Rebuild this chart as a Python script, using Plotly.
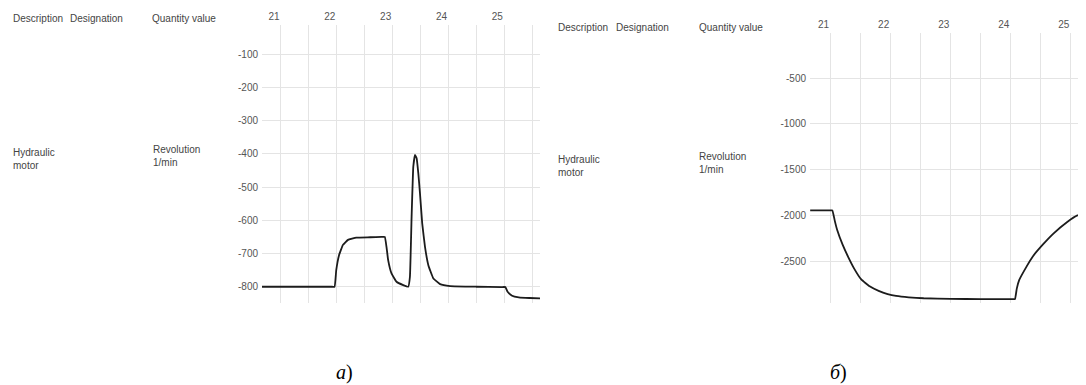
import plotly.graph_objects as go

# page body has an 8px margin, so the figure is offset by 8px
OFF = 8
W, H = 1086 - OFF, 385 - OFF

# ---- data (panel a) ----
time_a = [20.66, 21.50, 21.90, 21.96, 21.99, 22.04, 22.11, 22.20, 22.35, 22.60, 22.80, 22.86,
          22.89, 22.92, 22.98, 23.07, 23.19, 23.28, 23.31, 23.34, 23.37, 23.40, 23.43, 23.46,
          23.49, 23.53, 23.58, 23.64, 23.73, 23.85, 24.03, 24.50, 24.95, 25.02, 25.06, 25.14,
          25.26, 25.45, 25.64]
rev_a = [-800, -800, -800, -800, -750, -705, -674, -659, -652, -651, -650, -650,
         -680, -720, -760, -785, -795, -800, -770, -589, -439, -403, -413, -458,
         -519, -609, -680, -735, -775, -792, -798, -800, -801, -801, -815, -827,
         -832, -834, -835]

# ---- data (panel б) ----
time_b = [20.66, 20.90, 21.00, 21.03, 21.07, 21.11, 21.20, 21.29, 21.40, 21.51, 21.65, 21.80,
          21.95, 22.09, 22.30, 22.55, 23.00, 23.50, 23.90, 24.03, 24.07, 24.10, 24.14, 24.26,
          24.37, 24.54, 24.71, 24.94, 25.11, 25.29, 25.39]
rev_b = [-1946, -1946, -1946, -1946, -2060, -2160, -2320, -2450, -2590, -2700, -2775, -2825,
         -2860, -2880, -2895, -2905, -2912, -2914, -2915, -2915, -2915, -2800, -2707, -2562,
         -2446, -2315, -2199, -2072, -2000, -1971, -1964]

x_ticks = [21, 22, 23, 24, 25]
y_ticks_a = [-100, -200, -300, -400, -500, -600, -700, -800]
y_ticks_b = [-500, -1000, -1500, -2000, -2500]


def px(x):
    return (x - OFF) / W


def py(y):
    return 1 - (y - OFF) / H


fig = go.Figure()
line = dict(color="#1c1c1c", width=1.8, shape="spline", smoothing=0.3)
fig.add_trace(go.Scatter(x=time_a, y=rev_a, mode="lines", line=line, xaxis="x", yaxis="y",
                         showlegend=False, hoverinfo="skip"))
fig.add_trace(go.Scatter(x=time_b, y=rev_b, mode="lines", line=line, xaxis="x2", yaxis="y2",
                         showlegend=False, hoverinfo="skip"))

grid = "#e4e4e4"
tickfont = dict(family="Liberation Sans, Arial", size=10, color="#555")


def xaxis(domain, rng, anchor):
    return dict(domain=domain, range=rng, anchor=anchor, side="top",
                tickvals=x_ticks, ticktext=[str(v) for v in x_ticks],
                showgrid=True, gridcolor=grid, gridwidth=1,
                minor=dict(dtick=0.5, tick0=20.5, showgrid=True, gridcolor=grid, gridwidth=1),
                zeroline=False, showline=False, ticks="", tickfont=tickfont,
                ticklabelshift=-7, ticklabelstandoff=2, fixedrange=True)


def yaxis(domain, rng, anchor, vals):
    return dict(domain=domain, range=rng, anchor=anchor,
                tickvals=vals, ticktext=[str(v) for v in vals],
                showgrid=True, gridcolor=grid, gridwidth=1,
                zeroline=False, showline=False, ticks="", tickfont=tickfont,
                ticklabelstandoff=3, fixedrange=True)


fig.update_layout(
    width=W, height=H,
    margin=dict(l=0, r=0, t=0, b=0),
    paper_bgcolor="white", plot_bgcolor="white",
    xaxis=xaxis([px(262), px(540)], [20.66, 25.64], "y"),
    yaxis=yaxis([py(303), py(25)], [-849, -12], "x", y_ticks_a),
    xaxis2=xaxis([px(810), 1.0], [20.657, 25.39 - 8 / 58.3], "y2"),
    yaxis2=yaxis([py(303), py(33)], [-2957, -8], "x2", y_ticks_b),
)

txt = dict(family="Liberation Sans, Arial", size=10, color="#444")


def label(x, y, s, font=txt):
    fig.add_annotation(x=px(x), y=py(y), xref="paper", yref="paper", text=s,
                       showarrow=False, xanchor="left", yanchor="middle", align="left",
                       font=font)


# panel a texts
label(11, 18, "Description")
label(68, 18, "Designation")
label(150, 18, "Quantity value")
label(11, 159, "Hydraulic<br>motor")
label(151, 156, "Revolution<br>1/min")

# panel б texts
label(556, 28, "Description")
label(614, 28, "Designation")
label(697, 28, "Quantity value")
label(556, 166, "Hydraulic<br>motor")
label(697, 163, "Revolution<br>1/min")

cap = dict(family="Liberation Serif, Times New Roman", size=20, color="#000")
fig.add_annotation(x=px(344), y=py(372), xref="paper", yref="paper", text="<i>a</i>)",
                   showarrow=False, xanchor="center", yanchor="middle", font=cap)
fig.add_annotation(x=px(838), y=py(372), xref="paper", yref="paper", text="<i>б</i>)",
                   showarrow=False, xanchor="center", yanchor="middle", font=cap)

fig.write_html("out.html")
